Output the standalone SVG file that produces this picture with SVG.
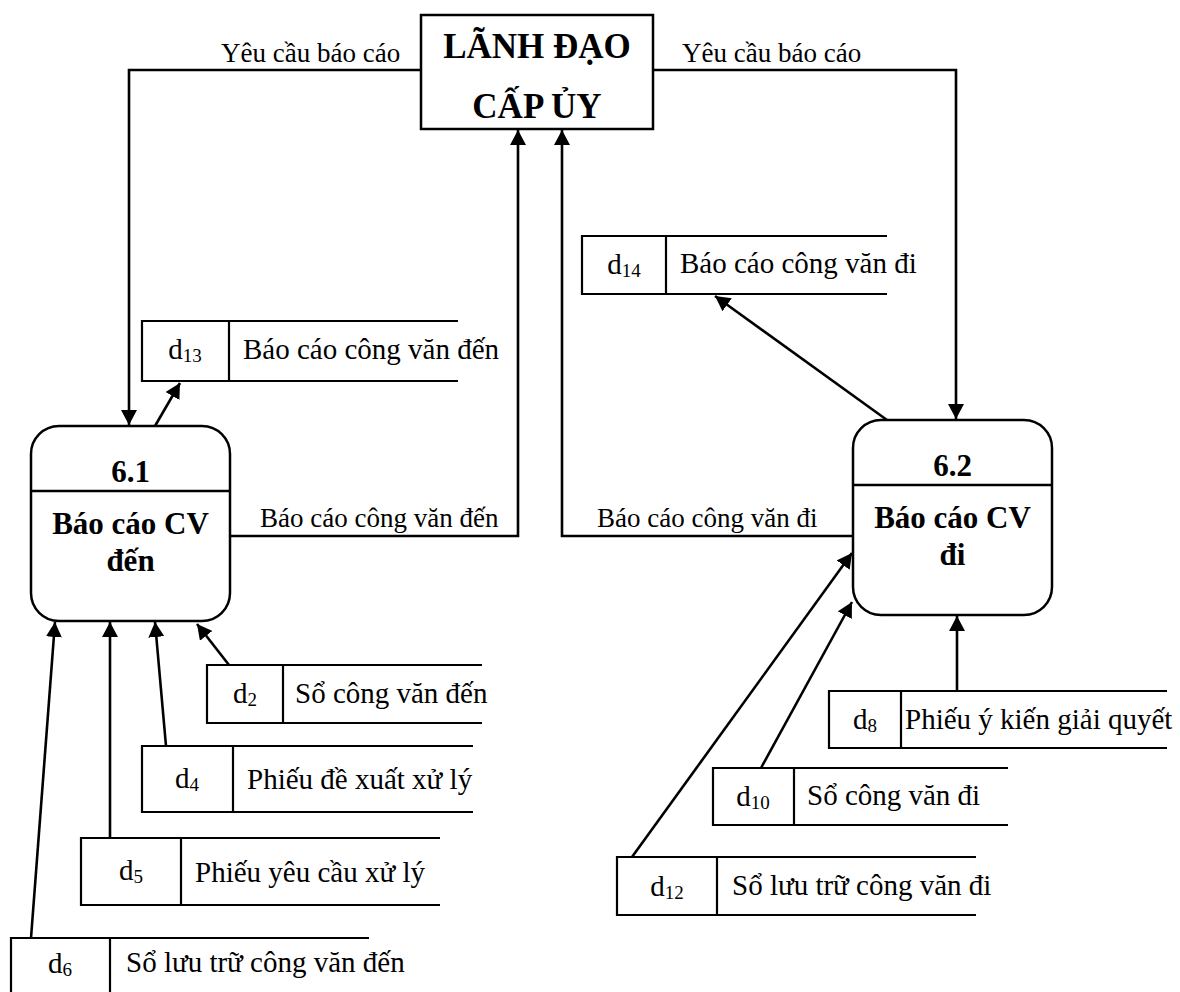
<svg xmlns="http://www.w3.org/2000/svg" width="1180" height="992" viewBox="0 0 1180 992">
  <style>
    text { font-family: "Liberation Serif", "Times New Roman", serif; fill: #000; }
    .ent { fill: #fff; stroke: #000; stroke-width: 2.5; }
    .proc { fill: #fff; stroke: #000; stroke-width: 2.5; }
    .sep { stroke: #000; stroke-width: 2.5; }
    .store { fill: none; stroke: #000; stroke-width: 2.2; }
    .flow { fill: none; stroke: #000; stroke-width: 2.6; marker-end: url(#arrow); }
    .title { font-size: 35px; font-weight: bold; text-anchor: middle; }
    .pt { font-size: 31px; font-weight: bold; text-anchor: middle; }
    .lbl { font-size: 27px; }
    .sl { font-size: 29px; }
    .sid { font-size: 29px; text-anchor: middle; }
    .sub { font-size: 19px; }
  </style>
  <defs>
    <marker id="arrow" viewBox="0 0 15 16" refX="15" refY="8" markerWidth="15" markerHeight="16" markerUnits="userSpaceOnUse" orient="auto">
      <path d="M0,0 L15,8 L0,16 z" fill="#000"/>
    </marker>
  </defs>

  <rect width="1180" height="992" fill="#fff"/>

  <!-- data flows -->
  <g id="connectors">
    <path class="flow" d="M421,70 H129 V425"/>
    <path class="flow" d="M653,70 H956 V419"/>
    <path class="flow" d="M155,426 L180,383"/>
    <path class="flow" d="M230,536 H518 V130"/>
    <path class="flow" d="M853,536 H562 V130"/>
    <path class="flow" d="M887,420 L715,296"/>
    <path class="flow" d="M229,665 L197,624"/>
    <path class="flow" d="M166,746 L155,622"/>
    <path class="flow" d="M110,838 L110,622"/>
    <path class="flow" d="M31,938 L55,622"/>
    <path class="flow" d="M957,691 V616"/>
    <path class="flow" d="M761,768 L852,602"/>
    <path class="flow" d="M632,857 L852,553"/>
    <text class="lbl" x="221" y="62">Yêu cầu báo cáo</text>
    <text class="lbl" x="682" y="62">Yêu cầu báo cáo</text>
    <text class="lbl" x="260" y="527">Báo cáo công văn đến</text>
    <text class="lbl" x="597" y="527">Báo cáo công văn đi</text>
  </g>

  <!-- external entity -->
  <g id="lanh-dao">
    <rect class="ent" x="421" y="15" width="232" height="114"/>
    <text class="title" x="537" y="58">LÃNH ĐẠO</text>
    <text class="title" x="537" y="118">CẤP ỦY</text>
  </g>

  <!-- processes -->
  <g id="p61">
    <rect class="proc" x="31" y="426" width="199" height="195" rx="28" ry="28"/>
    <line class="sep" x1="31" y1="491" x2="230" y2="491"/>
    <text class="pt" x="130.5" y="482">6.1</text>
    <text class="pt" x="130.5" y="534">Báo cáo CV</text>
    <text class="pt" x="130.5" y="571">đến</text>
  </g>
  <g id="p62">
    <rect class="proc" x="853" y="420" width="199" height="195" rx="28" ry="28"/>
    <line class="sep" x1="853" y1="485" x2="1052" y2="485"/>
    <text class="pt" x="952.5" y="476">6.2</text>
    <text class="pt" x="952.5" y="528">Báo cáo CV</text>
    <text class="pt" x="952.5" y="565">đi</text>
  </g>

  <!-- data stores -->
  <g id="d13">
    <path class="store" d="M458,321 H142 V381 H458 M229,321 V381"/>
    <text class="sid" x="185" y="359">d<tspan class="sub" dy="3">13</tspan></text>
    <text class="sl" x="243" y="359">Báo cáo công văn đến</text>
  </g>
  <g id="d14">
    <path class="store" d="M887,236 H582 V294 H887 M666,236 V294"/>
    <text class="sid" x="624" y="274">d<tspan class="sub" dy="3">14</tspan></text>
    <text class="sl" x="680" y="273">Báo cáo công văn đi</text>
  </g>
  <g id="d2">
    <path class="store" d="M482,665 H207 V723 H482 M283,665 V723"/>
    <text class="sid" x="245" y="703">d<tspan class="sub" dy="3">2</tspan></text>
    <text class="sl" x="295" y="703">Sổ công văn đến</text>
  </g>
  <g id="d4">
    <path class="store" d="M473,746 H142 V812 H473 M233,746 V812"/>
    <text class="sid" x="187" y="788">d<tspan class="sub" dy="3">4</tspan></text>
    <text class="sl" x="247" y="789">Phiếu đề xuất xử lý</text>
  </g>
  <g id="d5">
    <path class="store" d="M440,838 H81 V905 H440 M181,838 V905"/>
    <text class="sid" x="131" y="880">d<tspan class="sub" dy="3">5</tspan></text>
    <text class="sl" x="195" y="882">Phiếu yêu cầu xử lý</text>
  </g>
  <g id="d6">
    <path class="store" d="M369,938 H11 V995 M110,938 V995"/>
    <text class="sid" x="60" y="973">d<tspan class="sub" dy="3">6</tspan></text>
    <text class="sl" x="126" y="972">Sổ lưu trữ công văn đến</text>
  </g>
  <g id="d8">
    <path class="store" d="M1167,691 H829 V748 H1167 M901,691 V748"/>
    <text class="sid" x="865" y="729">d<tspan class="sub" dy="3">8</tspan></text>
    <text class="sl" x="905" y="729">Phiếu ý kiến giải quyết</text>
  </g>
  <g id="d10">
    <path class="store" d="M1008,768 H713 V825 H1008 M794,768 V825"/>
    <text class="sid" x="753" y="806">d<tspan class="sub" dy="3">10</tspan></text>
    <text class="sl" x="807" y="805">Sổ công văn đi</text>
  </g>
  <g id="d12">
    <path class="store" d="M976,857 H617 V915 H976 M717,857 V915"/>
    <text class="sid" x="667" y="896">d<tspan class="sub" dy="3">12</tspan></text>
    <text class="sl" x="732" y="895">Sổ lưu trữ công văn đi</text>
  </g>
</svg>
